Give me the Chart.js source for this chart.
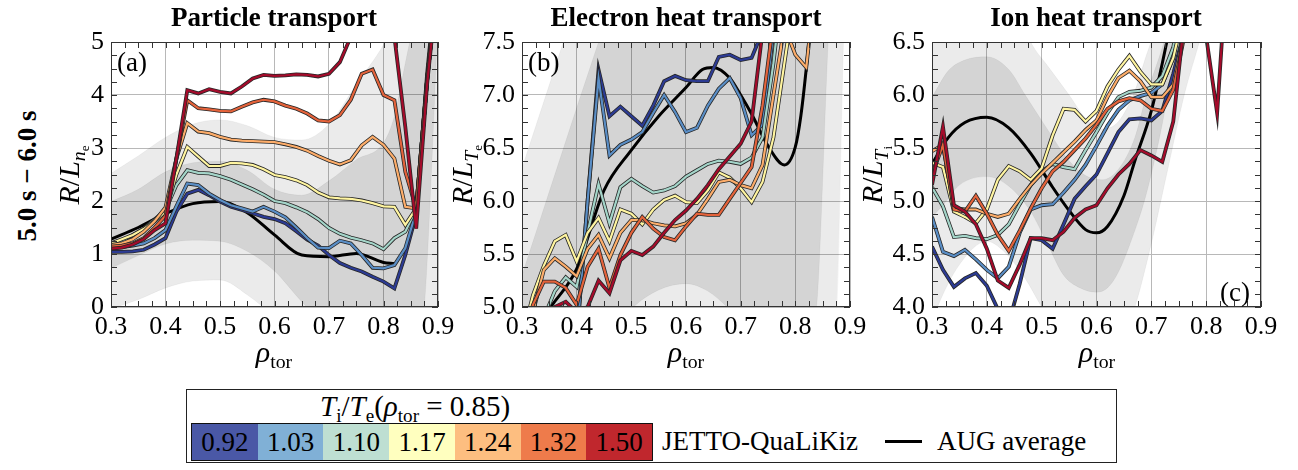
<!DOCTYPE html>
<html lang="en">
<head>
    <meta charset="UTF-8">
    <title>Transport comparison</title>
    <script src="https://cdn.jsdelivr.net/npm/chart.js"></script>
    <style>
        body { margin: 0; background: #fff; font-family: "Liberation Serif", "DejaVu Serif", serif; color: #000; }
        #page { position: relative; width: 1298px; height: 470px; overflow: hidden; }
        canvas { position: absolute; top: 0; }
        .txt { position: absolute; white-space: nowrap; }
        .title { font-weight: bold; font-size: 27px; width: 400px; text-align: center; top: 2px; line-height: 30px; }
        .ytitle { width: 200px; height: 30px; line-height: 30px; text-align: center; font-size: 30px; transform: rotate(-90deg); }
        .xtitle { width: 120px; text-align: center; font-size: 30px; top: 334px; line-height: 36px; }
        .plab { font-size: 27px; line-height: 30px; }
        sub { font-size: 0.66em; vertical-align: -0.3em; line-height: 0; }
        #legend { position: absolute; left: 186px; top: 389px; width: 931px; height: 74px; border: 1px solid #222; box-sizing: border-box; }
        #cbar { position: absolute; left: 191px; top: 423px; width: 462px; height: 38px; border: 1px solid #111; box-sizing: border-box; display: flex; }
        #cbar div { flex: 1; text-align: center; font-size: 27px; line-height: 36px; }
    </style>
</head>
<body>
<div id="page">
    <canvas id="pa" width="409" height="345" style="left:51px"></canvas>
    <canvas id="pb" width="410" height="345" style="left:462px"></canvas>
    <canvas id="pc" width="411" height="345" style="left:872px"></canvas>

    <div class="txt title" style="left:74px">Particle transport</div>
    <div class="txt title" style="left:486px">Electron heat transport</div>
    <div class="txt title" style="left:896px">Ion heat transport</div>

    <div class="txt ytitle" style="left:-73px; top:161px; font-weight:bold; font-size:27px">5.0 s &minus; 6.0 s</div>
    <div class="txt ytitle" style="left:-31px; top:160px"><i>R</i>/<i>L</i><sub><i>n</i><sub>e</sub></sub></div>
    <div class="txt ytitle" style="left:362px; top:160px"><i>R</i>/<i>L</i><sub><i>T</i><sub>e</sub></sub></div>
    <div class="txt ytitle" style="left:772px; top:160px"><i>R</i>/<i>L</i><sub><i>T</i><sub>i</sub></sub></div>

    <div class="txt xtitle" style="left:214px"><i>&rho;</i><sub>tor</sub></div>
    <div class="txt xtitle" style="left:626px"><i>&rho;</i><sub>tor</sub></div>
    <div class="txt xtitle" style="left:1037px"><i>&rho;</i><sub>tor</sub></div>

    <div class="txt plab" style="left:117px; top:47px">(a)</div>
    <div class="txt plab" style="left:528px; top:47px">(b)</div>
    <div class="txt plab" style="left:1220px; top:277px">(c)</div>

    <div id="legend"></div>
    <div class="txt" style="left:320px; top:391px; font-size:29px; line-height:30px"><i>T</i><sub>i</sub>/<i>T</i><sub>e</sub>(<i>&rho;</i><sub>tor</sub> = 0.85)</div>
    <div id="cbar"></div>
    <div class="txt" style="left:662px; top:426px; font-size:27px; line-height:30px">JETTO-QuaLiKiz</div>
    <div style="position:absolute; left:885px; top:440px; width:37px; height:3px; background:#000"></div>
    <div class="txt" style="left:937px; top:426px; font-size:27px; line-height:30px">AUG average</div>
</div>

<script>
    // radial grid of the simulated profiles
    const rho = [0.30, 0.32, 0.34, 0.36, 0.38, 0.40, 0.42, 0.44, 0.46, 0.48, 0.50, 0.52, 0.54, 0.56, 0.58, 0.60,
                 0.62, 0.64, 0.66, 0.68, 0.70, 0.72, 0.74, 0.76, 0.78, 0.80, 0.82, 0.84, 0.86, 0.88, 0.90];

    const ratios = ["0.92", "1.03", "1.10", "1.17", "1.24", "1.32", "1.50"];
    const boxColors = ["#4a58a6", "#80b0d6", "#bedfd2", "#ffffbf", "#fdbe80", "#ee7b4b", "#c0272d"];
    const lineColors = ["#2c3b93", "#5a8ec6", "#a4d5c9", "#fff5a0", "#fdad6a", "#e4633b", "#a50b2b"];

    const xTicks = [0.3, 0.4, 0.5, 0.6, 0.7, 0.8, 0.9];

    // (a) particle transport, R/L_ne
    const a092 = [1.04,1.04,1.05,1.08,1.18,1.30,1.80,2.14,2.21,2.11,1.99,1.89,1.83,1.77,1.70,1.66,1.58,1.43,1.27,1.16,0.98,0.83,0.74,0.67,0.57,0.48,0.35,0.98,1.74,4.40,6.5];
    const a103 = [1.11,1.13,1.16,1.20,1.30,1.45,1.90,2.33,2.30,2.14,2.02,1.92,1.86,1.80,1.89,1.80,1.69,1.50,1.30,1.12,1.11,1.25,1.20,0.98,0.74,0.73,0.79,1.11,1.80,4.30,6.3];
    const a110 = [1.14,1.24,1.36,1.48,1.65,1.83,2.30,2.58,2.53,2.52,2.47,2.40,2.31,2.22,2.12,2.00,1.96,1.88,1.79,1.66,1.49,1.38,1.31,1.26,1.20,1.09,1.30,1.42,1.86,4.28,6.3];
    const a117 = [1.20,1.28,1.36,1.47,1.62,1.80,2.50,3.02,2.84,2.66,2.66,2.72,2.71,2.68,2.60,2.49,2.45,2.39,2.30,2.16,2.07,2.05,2.04,2.01,1.96,1.90,1.89,1.55,1.86,4.28,6.3];
    const a124 = [1.17,1.20,1.28,1.42,1.62,1.88,2.80,3.47,3.31,3.28,3.21,3.16,3.14,3.13,3.12,3.11,3.07,3.02,2.95,2.85,2.76,2.69,2.77,3.05,3.21,3.06,2.80,1.89,1.86,4.28,6.3];
    const a132 = [1.14,1.16,1.20,1.30,1.50,1.72,2.80,3.90,3.75,3.73,3.70,3.69,3.78,3.86,3.91,3.88,3.80,3.74,3.65,3.52,3.50,3.62,3.91,4.40,4.48,4.00,3.90,2.55,1.86,4.28,6.3];
    const a150 = [1.10,1.12,1.18,1.28,1.45,1.58,2.80,4.09,4.03,4.11,4.06,4.03,4.16,4.31,4.38,4.36,4.37,4.39,4.38,4.35,4.40,4.62,5.10,6.00,6.50,6.00,5.10,3.40,1.48,4.20,6.2];
    const aAugX = [0.30, 0.35, 0.40, 0.45, 0.50, 0.55, 0.60, 0.65, 0.70, 0.75, 0.80, 0.82];
    const aAugY = [1.28, 1.50, 1.76, 1.95, 1.99, 1.78, 1.36, 0.98, 0.95, 1.01, 0.84, 0.82];
    const aLightUpX = [0.30, 0.35, 0.40, 0.45, 0.50, 0.55, 0.60, 0.65, 0.70, 0.75, 0.80, 0.85, 0.90];
    const aLightUp = [2.52, 2.85, 3.20, 3.45, 3.53, 3.42, 3.20, 3.15, 3.45, 4.20, 4.95, 6.0, 7.0];
    const aLightLoX = [0.30, 0.35, 0.40, 0.45, 0.50, 0.55, 0.60, 0.65, 0.70, 0.80, 0.90];
    const aLightLo = [-0.03, 0.14, 0.36, 0.49, 0.51, 0.23, -0.20, -0.8, -1.4, -1.5, -0.5];
    const aDarkUpX = [0.30, 0.35, 0.40, 0.45, 0.50, 0.55, 0.60, 0.65, 0.70, 0.75, 0.80, 0.82, 0.84, 0.86, 0.90];
    const aDarkUp = [1.99, 2.22, 2.55, 2.72, 2.75, 2.58, 2.22, 2.11, 2.38, 2.78, 3.10, 3.60, 4.60, 5.60, 7.5];
    const aDarkLoX = [0.30, 0.35, 0.40, 0.45, 0.50, 0.55, 0.60, 0.65, 0.70, 0.80, 0.86, 0.875, 0.89, 0.90];
    const aDarkLo = [0.73, 0.97, 1.19, 1.26, 1.24, 1.05, 0.68, 0.10, -0.40, -1.4, -1.0, 0.0, 3.0, 5.5];

    // (b) electron heat transport, R/L_Te
    const b092 = [4.0,4.1,4.2,4.3,4.4,4.7,6.0,7.24,6.80,6.89,6.80,6.71,6.90,7.13,7.18,7.14,7.13,7.13,7.36,7.38,7.33,7.35,7.6,8.2,8.6,8.8,9,9,9,9,9];
    const b103 = [4.0,4.1,4.2,4.3,4.4,4.7,6.0,7.16,6.43,6.53,6.58,6.65,6.83,7.00,6.84,6.65,6.69,6.90,7.06,7.16,6.97,6.62,6.72,7.6,8.3,8.8,9,9,9,9,9];
    const b110 = [4.4,4.6,4.9,5.15,5.28,5.19,5.70,6.16,5.79,6.13,6.21,6.14,6.08,6.10,6.14,6.23,6.29,6.35,6.38,6.37,6.35,6.41,6.60,7.3,8.2,8.8,9,9,9,9,9];
    const b117 = [4.7,5.11,5.39,5.62,5.68,5.43,5.70,5.84,5.62,5.92,5.88,5.78,5.92,6.01,6.05,5.99,5.98,6.10,6.27,6.22,6.12,5.99,6.18,6.60,7.30,8.0,8.5,9,9,9,9];
    const b124 = [4.6,4.95,5.35,5.46,5.38,5.29,5.55,5.68,5.46,5.70,5.82,5.82,5.79,5.77,5.76,5.79,5.87,6.02,6.18,6.20,6.15,6.12,6.34,7.0,7.65,7.38,7.26,8.2,8.6,9,9];
    const b132 = [4.6,5.02,5.24,5.24,5.18,5.02,5.38,5.55,5.18,5.49,5.70,5.85,5.74,5.66,5.63,5.76,5.88,5.87,5.87,6.02,6.17,6.32,6.90,7.7,8.5,9,9,9,9,9,9];
    const b150 = [4.6,4.75,4.9,5.0,5.05,4.95,5.0,5.25,5.13,5.44,5.53,5.49,5.57,5.70,5.82,5.91,6.02,6.15,6.30,6.42,6.54,6.75,7.6,8.5,9,9,9,9,9,9,9];
    const bAugX = [0.30, 0.35, 0.40, 0.45, 0.50, 0.55, 0.60, 0.63, 0.65, 0.68, 0.70, 0.72, 0.75, 0.78, 0.80, 0.81, 0.82, 0.83];
    const bAugY = [4.55, 4.98, 5.36, 6.10, 6.48, 6.80, 7.07, 7.24, 7.26, 7.16, 7.00, 6.82, 6.52, 6.34, 6.51, 6.80, 7.25, 7.80];
    const bLightUpX = [0.30, 0.3756, 0.45, 0.90];
    const bLightUp = [6.31, 7.5, 8.7, 11];
    const bLightLoX = [0.30, 0.60, 0.86, 0.876, 0.888, 0.90];
    const bLightLo = [2.5, 4.0, 4.4, 5.0, 7.5, 9.5];
    const bDarkUpX = [0.30, 0.44, 0.50, 0.90];
    const bDarkUp = [5.30, 7.5, 8.4, 11];
    const bDarkLoX = [0.30, 0.40, 0.50, 0.55, 0.60, 0.64, 0.675, 0.72, 0.78, 0.82, 0.839, 0.86, 0.88, 0.90];
    const bDarkLo = [3.5, 4.3, 4.98, 5.16, 5.22, 5.15, 5.0, 4.75, 4.5, 4.6, 5.0, 7.5, 9.5, 10];

    // (c) ion heat transport, R/L_Ti
    const c092 = [4.57,4.35,4.19,4.27,4.32,4.20,3.98,3.85,4.22,4.65,4.63,4.55,4.78,5.02,5.14,5.25,5.45,5.65,5.77,5.78,5.76,5.85,6.20,6.60,7.0,7.5,7.5,7.5,7.5,7.5,7.5];
    const c103 = [4.85,4.52,4.48,4.54,4.45,4.35,4.27,4.38,4.70,4.92,4.96,4.97,5.08,5.20,5.34,5.52,5.71,5.86,5.95,5.99,6.02,6.10,6.35,6.90,7.5,7.5,7.5,7.5,7.5,7.5,7.5];
    const c110 = [5.13,4.95,4.66,4.67,4.65,4.64,4.68,4.78,4.97,5.15,5.28,5.35,5.32,5.30,5.48,5.65,5.83,5.98,6.03,6.04,6.07,6.18,6.45,7.0,7.5,7.5,7.5,7.5,7.5,7.5,7.5];
    const c117 = [5.36,5.32,4.90,4.85,4.79,4.92,5.20,5.33,5.28,5.20,5.31,5.62,5.87,5.86,5.75,5.85,6.08,6.24,6.37,6.22,6.10,6.10,6.35,6.80,7.5,7.5,7.5,7.5,7.5,7.5,7.5];
    const c124 = [5.47,5.53,4.93,4.92,4.92,4.88,4.85,4.88,5.02,5.15,5.26,5.36,5.46,5.56,5.67,5.76,5.98,6.16,6.23,6.13,5.98,5.98,6.10,6.60,7.2,7.5,7.5,7.5,7.5,7.5,7.5];
    const c132 = [5.25,5.53,4.92,4.90,5.05,4.88,4.68,4.53,4.72,4.93,5.12,5.28,5.37,5.48,5.59,5.72,5.87,5.94,5.97,5.95,5.87,5.85,6.05,6.55,7.2,7.5,7.5,7.5,7.5,7.5,7.5];
    const c150 = [5.15,5.70,4.96,4.90,4.78,4.55,4.25,4.18,4.40,4.65,4.65,4.63,4.71,4.84,4.92,4.96,5.12,5.25,5.35,5.48,5.43,5.37,5.75,6.70,7.5,6.55,5.83,7.4,7.5,7.5,7.5];
    const cAugX = [0.30, 0.33, 0.36, 0.40, 0.44, 0.48, 0.52, 0.55, 0.58, 0.60, 0.62, 0.65, 0.67, 0.70, 0.72, 0.74];
    const cAugY = [5.35, 5.60, 5.74, 5.79, 5.69, 5.45, 5.13, 4.91, 4.73, 4.70, 4.76, 5.05, 5.38, 5.85, 6.30, 6.80];
    const cLightUpX = [0.30, 0.40, 0.45, 0.48, 0.51, 0.55, 0.58, 0.61, 0.64, 0.67, 0.69, 0.70, 0.72, 0.80, 0.90];
    const cLightUp = [7.0, 7.2, 6.9, 6.5, 6.28, 6.0, 5.78, 5.68, 5.75, 6.04, 6.36, 6.52, 7.0, 8.0, 8.5];
    const cLightLoX = [0.30, 0.31, 0.35, 0.40, 0.43, 0.47, 0.50, 0.55, 0.60, 0.64, 0.67, 0.70, 0.73, 0.76, 0.79, 0.82, 0.90];
    const cLightLo = [3.85, 4.0, 4.4, 4.62, 4.53, 4.27, 4.0, 3.6, 3.4, 3.6, 4.0, 4.6, 5.3, 6.0, 6.55, 7.2, 8.2];
    const cDarkUpX = [0.30, 0.33, 0.36, 0.40, 0.44, 0.47, 0.51, 0.55, 0.58, 0.61, 0.64, 0.67, 0.69, 0.72, 0.75, 0.90];
    const cDarkUp = [5.98, 6.23, 6.33, 6.36, 6.24, 6.0, 5.68, 5.38, 5.24, 5.2, 5.3, 5.6, 5.98, 6.45, 7.0, 9.0];
    const cDarkLoX = [0.30, 0.32, 0.35, 0.40, 0.44, 0.48, 0.51, 0.54, 0.57, 0.60, 0.62, 0.64, 0.665, 0.69, 0.715, 0.74, 0.76, 0.80, 0.90];
    const cDarkLo = [4.85, 4.96, 5.15, 5.23, 5.14, 4.9, 4.6, 4.3, 4.18, 4.14, 4.18, 4.33, 4.65, 5.05, 5.6, 6.25, 6.6, 7.4, 8.5];

    const FONT = "'Liberation Serif', 'DejaVu Serif', serif";

    // colour bar legend
    const cbar = document.getElementById("cbar");
    ratios.forEach((r, i) => {
        const cell = document.createElement("div");
        cell.textContent = r;
        cell.style.background = boxColors[i];
        cbar.appendChild(cell);
    });

    function pts(xs, ys) {
        return xs.map((x, i) => ({ x: x, y: ys[i] }));
    }

    // frame + inward ticks on all four sides
    const frameTicks = {
        id: "frameTicks",
        afterDatasetsDraw(chart, args, opts) {
            const { ctx, chartArea: a, scales } = chart;
            const x = scales.x, y = scales.y;
            ctx.save();
            ctx.strokeStyle = "#333";
            ctx.lineWidth = 1;
            ctx.beginPath();
            for (let k = 0; k <= 24; k++) {
                const px = Math.round(x.getPixelForValue(0.3 + k * 0.025)) + 0.5;
                ctx.moveTo(px, a.bottom); ctx.lineTo(px, a.bottom - 6);
                ctx.moveTo(px, a.top); ctx.lineTo(px, a.top + 6);
            }
            const n = Math.round((opts.yMax - opts.yMin) / (opts.yStep / 4));
            for (let k = 0; k <= n; k++) {
                const py = Math.round(y.getPixelForValue(opts.yMin + k * opts.yStep / 4)) + 0.5;
                ctx.moveTo(a.left, py); ctx.lineTo(a.left + 6, py);
                ctx.moveTo(a.right, py); ctx.lineTo(a.right - 6, py);
            }
            ctx.stroke();
            ctx.strokeRect(Math.round(a.left) + 0.5, Math.round(a.top) + 0.5, Math.round(a.width) - 1, Math.round(a.height) - 1);
            ctx.restore();
        }
    };

    function makePanel(id, p) {
        const ds = [];
        const bandStyle = { pointRadius: 0, borderWidth: 0.8, borderColor: "rgba(0,0,0,0.06)", cubicInterpolationMode: "monotone", clip: 0 };
        ds.push(Object.assign({ data: pts(p.band[0], p.band[1]), fill: "+1", backgroundColor: "rgba(0,0,0,0.08)", order: 43 }, bandStyle));
        ds.push(Object.assign({ data: pts(p.band[2], p.band[3]), fill: false, order: 42 }, bandStyle));
        ds.push(Object.assign({ data: pts(p.band[4], p.band[5]), fill: "+1", backgroundColor: "rgba(0,0,0,0.10)", order: 41 }, bandStyle));
        ds.push(Object.assign({ data: pts(p.band[6], p.band[7]), fill: false, order: 40 }, bandStyle));
        ds.push({ data: pts(p.augX, p.augY), borderColor: "#000", borderWidth: 3, pointRadius: 0,
                  cubicInterpolationMode: "monotone", fill: false, order: 30, clip: 0 });
        p.series.forEach((s, i) => {
            ds.push({ data: pts(rho, s), borderColor: "#262626", borderWidth: 3.8, pointRadius: 0, fill: false, order: 21 - 2 * i, clip: 0 });
            ds.push({ data: pts(rho, s), borderColor: lineColors[i], borderWidth: 2.2, pointRadius: 0, fill: false, order: 20 - 2 * i, clip: 0 });
        });

        new Chart(document.getElementById(id), {
            type: "line",
            data: { datasets: ds },
            options: {
                responsive: false,
                animation: false,
                devicePixelRatio: 1,
                layout: { padding: { top: 42, right: 22, left: 0, bottom: 0 } },
                plugins: {
                    legend: { display: false },
                    tooltip: { enabled: false },
                    frameTicks: { yMin: p.yTicks[0], yMax: p.yTicks[p.yTicks.length - 1], yStep: p.yTicks[1] - p.yTicks[0] }
                },
                scales: {
                    x: {
                        type: "linear", min: 0.3, max: 0.9,
                        afterBuildTicks: s => { s.ticks = xTicks.map(v => ({ value: v })); },
                        afterFit: s => { s.height = 38; },
                        grid: { color: "#b8b8b8", drawTicks: false, tickLength: 0 },
                        border: { display: false },
                        ticks: { color: "#000", padding: 5, font: { family: FONT, size: 26 }, maxRotation: 0, autoSkip: false,
                                 callback: v => v.toFixed(1) }
                    },
                    y: {
                        type: "linear", min: p.yTicks[0], max: p.yTicks[p.yTicks.length - 1],
                        afterBuildTicks: s => { s.ticks = p.yTicks.map(v => ({ value: v })); },
                        afterFit: s => { s.width = 60; },
                        grid: { color: "#b8b8b8", drawTicks: false, tickLength: 0 },
                        border: { display: false },
                        ticks: { color: "#000", padding: 7, font: { family: FONT, size: 26 }, autoSkip: false,
                                 callback: v => v.toFixed(p.dec) }
                    }
                }
            },
            plugins: [frameTicks]
        });
    }

    function drawAll() {
        makePanel("pa", {
            yTicks: [0, 1, 2, 3, 4, 5], dec: 0,
            series: [a092, a103, a110, a117, a124, a132, a150],
            augX: aAugX, augY: aAugY,
            band: [aLightUpX, aLightUp, aLightLoX, aLightLo, aDarkUpX, aDarkUp, aDarkLoX, aDarkLo]
        });
        makePanel("pb", {
            yTicks: [5.0, 5.5, 6.0, 6.5, 7.0, 7.5], dec: 1,
            series: [b092, b103, b110, b117, b124, b132, b150],
            augX: bAugX, augY: bAugY,
            band: [bLightUpX, bLightUp, bLightLoX, bLightLo, bDarkUpX, bDarkUp, bDarkLoX, bDarkLo]
        });
        makePanel("pc", {
            yTicks: [4.0, 4.5, 5.0, 5.5, 6.0, 6.5], dec: 1,
            series: [c092, c103, c110, c117, c124, c132, c150],
            augX: cAugX, augY: cAugY,
            band: [cLightUpX, cLightUp, cLightLoX, cLightLo, cDarkUpX, cDarkUp, cDarkLoX, cDarkLo]
        });
    }

    // make sure the serif face is ready before the canvases draw their labels
    document.fonts.load("26px 'Liberation Serif'").then(drawAll, drawAll);
</script>
</body>
</html>
